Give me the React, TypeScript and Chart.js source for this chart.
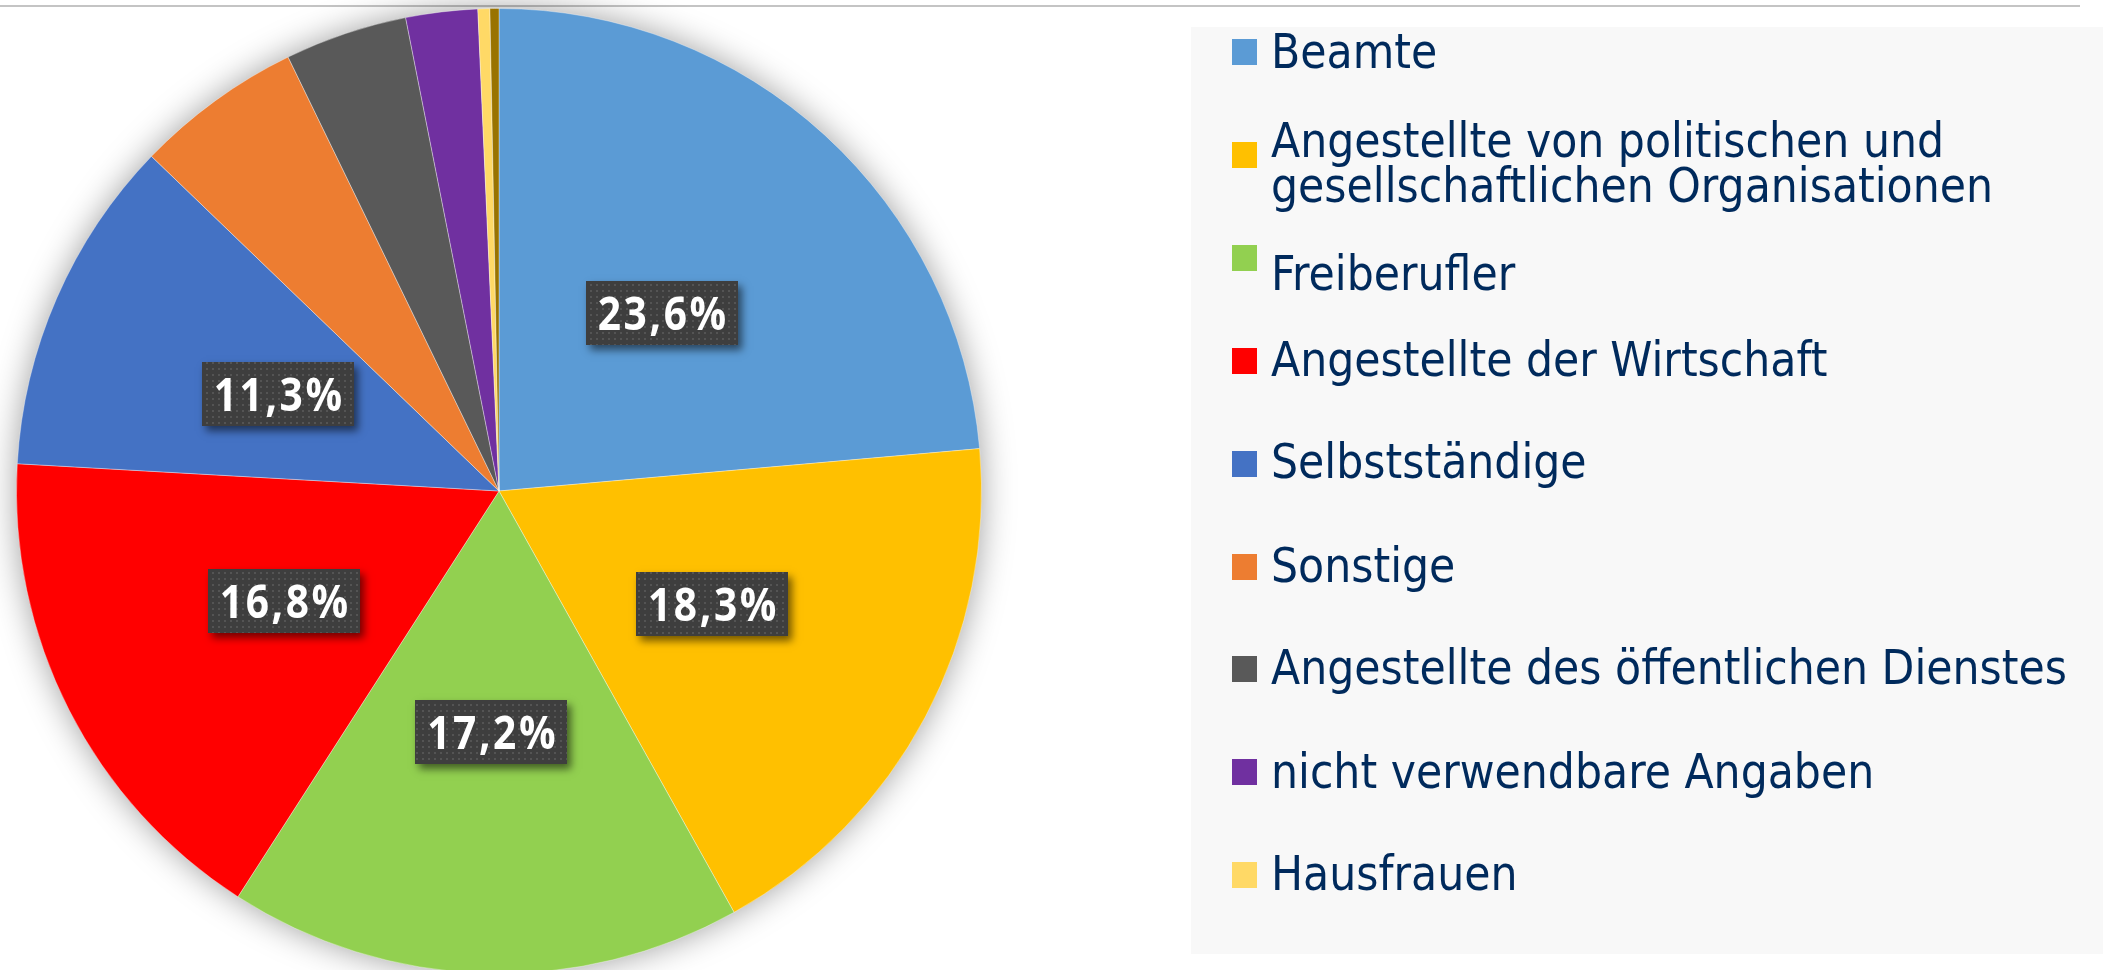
import { useEffect, useRef } from 'react';
import { Chart, registerables } from 'chart.js';

Chart.register(...registerables);

// ---- data ----
const categories: (string | string[])[] = [
  'Beamte',
  ['Angestellte von politischen und', 'gesellschaftlichen Organisationen'],
  'Freiberufler',
  'Angestellte der Wirtschaft',
  'Selbstständige',
  'Sonstige',
  'Angestellte des öffentlichen Dienstes',
  'nicht verwendbare Angaben',
  'Hausfrauen',
  'ohne Angabe',
];
const shares = [23.6, 18.3, 17.2, 16.8, 11.3, 5.6, 4.1, 2.4, 0.4, 0.3];
const sliceColors = [
  '#5B9BD5',
  '#FFC000',
  '#92D050',
  '#FF0000',
  '#4472C4',
  '#ED7D31',
  '#595959',
  '#7030A0',
  '#FFD966',
  '#997300',
];
const legendCount = 9; // the last slice has no visible legend entry
const labelThreshold = 10; // only slices >= 10 % get a value label

// ---- layout ----
const W = 2103;
const H = 970;
const CANVAS_H = 990;
const legendTextOffsets = [29, 15, 45, 28, 27, 28, 28, 29, 28];

function makePattern(ctx: CanvasRenderingContext2D) {
  const c = document.createElement('canvas');
  c.width = 6;
  c.height = 6;
  const p = c.getContext('2d')!;
  p.fillStyle = '#3e3e3e';
  p.fillRect(0, 0, 6, 6);
  p.fillStyle = '#545454';
  p.fillRect(2, 2, 2, 2);
  return ctx.createPattern(c, 'repeat')!;
}

const backgroundPlugin = {
  id: 'pageBackground',
  beforeDraw(chart: any) {
    const ctx: CanvasRenderingContext2D = chart.ctx;
    ctx.save();
    ctx.fillStyle = '#ffffff';
    ctx.fillRect(0, 0, chart.width, chart.height);
    ctx.fillStyle = '#c4c4c4';
    ctx.fillRect(0, 5, 2080, 2);
    ctx.fillStyle = '#f8f8f8';
    ctx.fillRect(1191, 27, W - 1191, 954 - 27);
    ctx.restore();
  },
};

const pieShadowPlugin = {
  id: 'pieShadow',
  beforeDatasetsDraw(chart: any) {
    const meta = chart.getDatasetMeta(0);
    const arc = meta.data[0];
    if (!arc) return;
    const ctx: CanvasRenderingContext2D = chart.ctx;
    ctx.save();
    ctx.shadowColor = 'rgba(0,0,0,0.4)';
    ctx.shadowBlur = 34;
    ctx.fillStyle = '#ffffff';
    ctx.beginPath();
    ctx.arc(arc.x, arc.y, arc.outerRadius - 1, 0, Math.PI * 2);
    ctx.fill();
    ctx.restore();
  },
};

const valueLabelPlugin = {
  id: 'valueLabels',
  afterDatasetsDraw(chart: any) {
    const ctx: CanvasRenderingContext2D = chart.ctx;
    const meta = chart.getDatasetMeta(0);
    const data: number[] = chart.data.datasets[0].data;
    ctx.save();
    ctx.font = 'bold 47px "Open Sans"';
    (ctx as any).letterSpacing = '3px';
    const refW = ctx.measureText('23,6%').width;
    const sx = Math.min(1, 131 / refW);
    const pattern = makePattern(ctx);
    meta.data.forEach((arc: any, i: number) => {
      const v = data[i];
      if (v < labelThreshold) return;
      const p = arc.tooltipPosition(false);
      const text = v.toFixed(1).replace('.', ',') + '%';
      const tw = ctx.measureText(text).width * sx;
      const w = Math.round(tw + 21);
      const h = 64;
      const x0 = Math.round(p.x - w / 2);
      const y0 = Math.round(p.y - h / 2);
      ctx.save();
      ctx.shadowColor = 'rgba(0,0,0,0.55)';
      ctx.shadowBlur = 8;
      ctx.shadowOffsetX = 4;
      ctx.shadowOffsetY = 5;
      ctx.fillStyle = '#3e3e3e';
      ctx.fillRect(x0, y0, w, h);
      ctx.restore();
      ctx.fillStyle = pattern;
      ctx.fillRect(x0, y0, w, h);
      ctx.save();
      ctx.translate(p.x + 1.5 * sx, y0 + h / 2 + 17);
      ctx.scale(sx, 1);
      ctx.fillStyle = '#ffffff';
      ctx.textAlign = 'center';
      ctx.textBaseline = 'alphabetic';
      ctx.fillText(text, 0, 0);
      ctx.restore();
    });
    ctx.restore();
  },
};

const sideLegendPlugin = {
  id: 'sideLegend',
  afterDraw(chart: any) {
    const ctx: CanvasRenderingContext2D = chart.ctx;
    const labels = chart.data.labels as (string | string[])[];
    const colors = chart.data.datasets[0].backgroundColor as string[];
    ctx.save();
    ctx.font = '48px "DejaVu Sans Condensed", "DejaVu Sans", sans-serif';
    const sx = 796 / ctx.measureText('Angestellte des öffentlichen Dienstes').width;
    ctx.textAlign = 'left';
    ctx.textBaseline = 'alphabetic';
    for (let i = 0; i < legendCount; i++) {
      const top = Math.round(39 + i * 102.9);
      ctx.fillStyle = colors[i];
      ctx.fillRect(1232, top, 25, 26);
      const lbl = labels[i];
      const lines = Array.isArray(lbl) ? lbl : [lbl];
      const base = top + legendTextOffsets[i];
      lines.forEach((line, j) => {
        ctx.save();
        ctx.translate(1271, base + j * 45);
        ctx.scale(sx, 1);
        ctx.fillStyle = '#002a5c';
        ctx.fillText(line, 0, 0);
        ctx.restore();
      });
    }
    ctx.restore();
  },
};

export default function App() {
  const canvasRef = useRef<HTMLCanvasElement | null>(null);

  useEffect(() => {
    document.body.style.margin = '0';
    const canvas = canvasRef.current;
    if (!canvas) return;
    const chart = new Chart(canvas, {
      type: 'pie',
      data: {
        labels: categories as any,
        datasets: [
          {
            data: shares,
            backgroundColor: sliceColors,
            borderColor: 'rgba(255,255,255,0.35)',
            borderWidth: 1,
            hoverOffset: 0,
          },
        ],
      },
      options: {
        responsive: false,
        animation: false,
        devicePixelRatio: 1,
        layout: {
          padding: { left: 16, top: 8, right: W - 16 - 966, bottom: CANVAS_H - 8 - 966 },
        },
        plugins: {
          legend: { display: false },
          tooltip: { enabled: false },
        },
        events: [],
      },
      plugins: [backgroundPlugin, pieShadowPlugin, valueLabelPlugin, sideLegendPlugin],
    });
    return () => chart.destroy();
  }, []);

  return (
    <div style={{ width: W, height: H, overflow: 'hidden', position: 'relative', background: '#fff' }}>
      <canvas ref={canvasRef} width={W} height={CANVAS_H} style={{ display: 'block', width: W, height: CANVAS_H }} />
    </div>
  );
}
